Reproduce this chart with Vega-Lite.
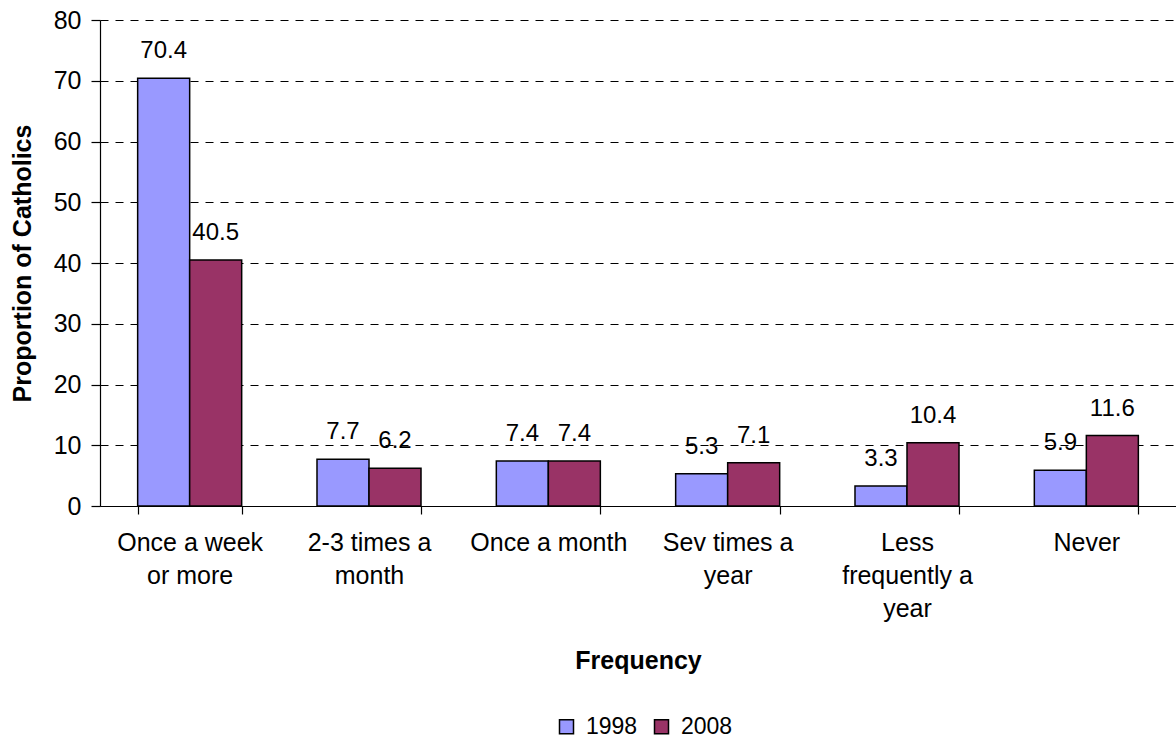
{
  "$schema": "https://vega.github.io/schema/vega-lite/v6.json",
  "width": 1076,
  "height": 486,
  "autosize": {"type": "none"},
  "padding": {"left": 100, "top": 20, "right": 0, "bottom": 234},
  "background": "white",
  "config": {
    "font": "Liberation Sans",
    "view": {"stroke": null},
    "axis": {"labelFont": "Liberation Sans", "titleFont": "Liberation Sans", "labelColor": "black", "titleColor": "black", "domainColor": "black", "tickColor": "black"}
  },
  "data": {
    "values": [
      {"freq": "Once a week\nor more", "year": "1998", "value": 70.4},
      {"freq": "Once a week\nor more", "year": "2008", "value": 40.5},
      {"freq": "2-3 times a\nmonth", "year": "1998", "value": 7.7},
      {"freq": "2-3 times a\nmonth", "year": "2008", "value": 6.2},
      {"freq": "Once a month", "year": "1998", "value": 7.4},
      {"freq": "Once a month", "year": "2008", "value": 7.4},
      {"freq": "Sev times a\nyear", "year": "1998", "value": 5.3},
      {"freq": "Sev times a\nyear", "year": "2008", "value": 7.1},
      {"freq": "Less\nfrequently a\nyear", "year": "1998", "value": 3.3},
      {"freq": "Less\nfrequently a\nyear", "year": "2008", "value": 10.4},
      {"freq": "Never", "year": "1998", "value": 5.9},
      {"freq": "Never", "year": "2008", "value": 11.6}
    ]
  },
  "encoding": {
    "x": {
      "field": "freq", "type": "nominal", "sort": null,
      "scale": {"paddingInner": 0.42, "paddingOuter": 0.21},
      "axis": {
        "title": "Frequency", "titleFontSize": 25, "titleFontWeight": "bold",
        "titleY": 162, "titleBaseline": "alphabetic",
        "labelAngle": 0, "labelFontSize": 25, "labelLineHeight": 33,
        "labelExpr": "split(datum.label, '\\n')",
        "labelPadding": 16, "tickSize": 8, "tickBand": "extent",
        "domainWidth": 1.2, "tickWidth": 1.2, "grid": false
      }
    },
    "y": {
      "field": "value", "type": "quantitative",
      "scale": {"domain": [0, 80], "nice": false},
      "axis": {
        "title": "Proportion of Catholics", "titleFontSize": 25, "titleFontWeight": "bold",
        "titleX": -78, "titleBaseline": "middle",
        "values": [0, 10, 20, 30, 40, 50, 60, 70, 80],
        "labelFontSize": 25, "labelPadding": 10, "tickSize": 9,
        "domainWidth": 1.2, "tickWidth": 1.2,
        "grid": true, "gridColor": "black", "gridDash": [8, 7], "gridWidth": 1.2, "gridOpacity": 1
      }
    },
    "xOffset": {"field": "year", "type": "nominal", "scale": {"paddingInner": 0, "paddingOuter": 0}}
  },
  "layer": [
    {
      "mark": {"type": "bar", "stroke": "black", "strokeWidth": 1.5},
      "encoding": {
        "color": {
          "field": "year", "type": "nominal",
          "scale": {"domain": ["1998", "2008"], "range": ["#9999FF", "#993366"]},
          "legend": {
            "title": null, "orient": "none", "direction": "horizontal",
            "legendX": 455, "legendY": 695,
            "symbolType": "square", "symbolSize": 196, "symbolStrokeColor": "black", "symbolStrokeWidth": 1.5,
            "labelFontSize": 23, "labelColor": "black", "labelFont": "Liberation Sans",
            "labelOffset": 8, "columnPadding": 12, "symbolOffset": 0
          }
        }
      }
    },
    {
      "mark": {"type": "text", "fontSize": 24, "dy": -20, "baseline": "alphabetic", "color": "black"},
      "encoding": {
        "text": {"field": "value", "type": "quantitative", "format": ".1f"}
      }
    }
  ]
}
